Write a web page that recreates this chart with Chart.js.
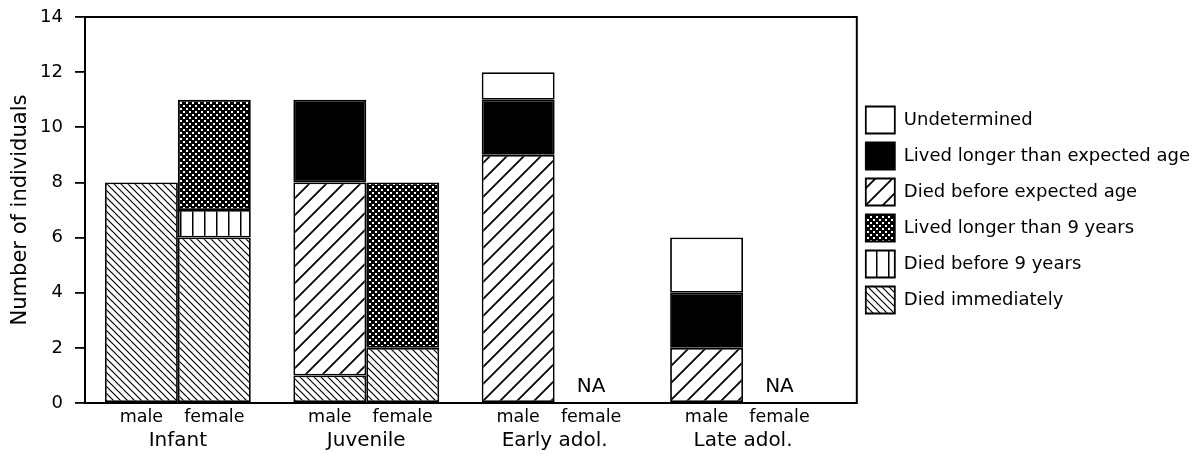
<!DOCTYPE html>
<html>
<head>
<meta charset="utf-8">
<script src="https://cdn.jsdelivr.net/npm/chart.js@4.4.0/dist/chart.umd.min.js"></script>
<style>
  body { margin: 0; background: #fff; }
</style>
</head>
<body>
<canvas id="myChart" width="1202" height="461"></canvas>
<script>
'use strict';

// groups along the x axis, two bars (male / female) in each
let groups = ['Infant', 'Juvenile', 'Early adol.', 'Late adol.'];
let sexes = ['male', 'female'];
let groupPos = [0, 1, 2, 3];
let femaleNA = [false, false, true, true];

let yTicks = [0, 2, 4, 6, 8, 10, 12, 14];

// counts per group, male and female
let diedImmediatelyM = [8, 1, null, null];
let diedImmediatelyF = [6, 2, null, null];
let diedBefore9M = [null, null, null, null];
let diedBefore9F = [1, null, null, null];
let livedLonger9M = [null, null, null, null];
let livedLonger9F = [4, 6, null, null];
let diedBeforeExpM = [null, 7, 9, 2];
let diedBeforeExpF = [null, null, null, null];
let livedLongerExpM = [null, 3, 2, 2];
let livedLongerExpF = [null, null, null, null];
let undeterminedM = [null, null, 1, 2];
let undeterminedF = [null, null, null, null];

let seriesNames = ['Died immediately', 'Died before 9 years', 'Lived longer than 9 years',
  'Died before expected age', 'Lived longer than expected age', 'Undetermined'];

let font = 'DejaVu Sans';
let catPct = 0.774;

// fill patterns
function makeTile(size, draw) {
  let c = document.createElement('canvas');
  c.width = size;
  c.height = size;
  let g = c.getContext('2d');
  g.fillStyle = '#fff';
  g.fillRect(0, 0, size, size);
  draw(g, size);
  return g.createPattern(c, 'repeat');
}

function hatch(size, dir, lw) {
  return makeTile(size, function(g, s) {
    g.strokeStyle = '#000';
    g.lineWidth = lw;
    g.beginPath();
    if (dir === '/') {
      g.moveTo(0, s); g.lineTo(s, 0);
      g.moveTo(-2, 2); g.lineTo(2, -2);
      g.moveTo(s - 2, s + 2); g.lineTo(s + 2, s - 2);
    } else {
      g.moveTo(0, 0); g.lineTo(s, s);
      g.moveTo(-2, s - 2); g.lineTo(2, s + 2);
      g.moveTo(s - 2, -2); g.lineTo(s + 2, 2);
    }
    g.stroke();
  });
}

let pImmediately = hatch(7, '\\', 1.2);
let pBeforeExp = hatch(17, '/', 1.8);
let pBefore9 = makeTile(12, function(g, s) {
  g.fillStyle = '#000';
  g.fillRect(0, 0, 1.5, s);
});
let pLonger9 = makeTile(6, function(g, s) {
  g.fillStyle = '#000';
  g.fillRect(0, 0, s, s);
  g.fillStyle = '#fff';
  g.fillRect(0, 0, 2, 2);
  g.fillRect(3, 3, 2, 2);
});

let fills = [pImmediately, pBefore9, pLonger9, pBeforeExp, '#000', '#fff'];
let maleSets = [diedImmediatelyM, diedBefore9M, livedLonger9M, diedBeforeExpM, livedLongerExpM, undeterminedM];
let femaleSets = [diedImmediatelyF, diedBefore9F, livedLonger9F, diedBeforeExpF, livedLongerExpF, undeterminedF];

function toPoints(values) {
  return values.map((v, i) => ({ x: groupPos[i], y: v }));
}

let datasets = [];
for (let i = 0; i < seriesNames.length; i++) {
  datasets.push({
    label: seriesNames[i],
    data: toPoints(maleSets[i]),
    stack: 'male',
    backgroundColor: fills[i]
  });
}
for (let i = 0; i < seriesNames.length; i++) {
  datasets.push({
    label: seriesNames[i],
    data: toPoints(femaleSets[i]),
    stack: 'female',
    backgroundColor: fills[i]
  });
}
datasets.forEach(d => {
  d.xAxisID = 'x';
  d.borderColor = '#000';
  d.borderWidth = 1.8;
  d.borderSkipped = false;
  d.categoryPercentage = catPct;
  d.barPercentage = 1.0;
});

let framePlugin = {
  id: 'frame',
  afterDatasetsDraw(chart) {
    let ctx = chart.ctx;
    let a = chart.chartArea;
    ctx.save();
    ctx.strokeStyle = '#000';
    ctx.lineWidth = 2;
    ctx.strokeRect(a.left, a.top, a.right - a.left, a.bottom - a.top);

    // NA labels for missing female bars
    ctx.fillStyle = '#000';
    ctx.font = '20px "' + font + '"';
    ctx.textAlign = 'center';
    ctx.textBaseline = 'middle';
    let y0 = chart.scales.y.getPixelForValue(0);
    for (let i = 0; i < groups.length; i++) {
      if (femaleNA[i]) {
        let x = chart.scales.x2.getPixelForValue(groupPos[i] + catPct / 4);
        ctx.fillText('NA', x, y0 - 16);
      }
    }
    ctx.restore();
  }
};

const config = {
  type: 'bar',
  data: { datasets: datasets },
  options: {
    responsive: false,
    animation: false,
    layout: { padding: { left: 4, right: 2, top: 17, bottom: 8 } },
    plugins: {
      tooltip: { enabled: false },
      legend: {
        position: 'right',
        align: 'center',
        fullSize: false,
        reverse: true,
        maxWidth: 420,
        labels: {
          filter: (item) => item.datasetIndex < seriesNames.length,
          boxWidth: 29,
          boxHeight: 27,
          padding: 9,
          color: '#000',
          font: { family: font, size: 18 }
        }
      }
    },
    scales: {
      x: {
        type: 'linear',
        position: 'bottom',
        weight: 1,
        min: -0.493,
        max: 3.604,
        offset: false,
        stacked: true,
        grid: { display: false, drawTicks: false },
        border: { display: false },
        afterBuildTicks: (scale) => {
          scale.ticks = groupPos.map(v => ({ value: v }));
        },
        afterFit: (scale) => {
          scale.height = 25.5;
          scale.paddingLeft = 0;
          scale.paddingRight = 0;
        },
        ticks: {
          autoSkip: false,
          maxRotation: 0,
          padding: 1.5,
          color: '#000',
          font: { family: font, size: 20 },
          callback: (v, i) => groups[i]
        }
      },
      x2: {
        type: 'linear',
        position: 'bottom',
        weight: 0,
        min: -0.493,
        max: 3.604,
        offset: false,
        grid: { display: false, drawTicks: false },
        border: { display: false },
        afterBuildTicks: (scale) => {
          let t = [];
          groupPos.forEach(v => {
            t.push({ value: v - catPct / 4 });
            t.push({ value: v + catPct / 4 });
          });
          scale.ticks = t;
        },
        afterFit: (scale) => {
          scale.height = 24.5;
          scale.paddingLeft = 0;
          scale.paddingRight = 0;
        },
        ticks: {
          autoSkip: false,
          maxRotation: 0,
          padding: 3.5,
          color: '#000',
          font: { family: font, size: 17.5 },
          callback: (v, i) => sexes[i % 2]
        }
      },
      y: {
        stacked: true,
        min: yTicks[0],
        max: yTicks[yTicks.length - 1],
        grid: {
          display: true,
          drawOnChartArea: false,
          drawTicks: true,
          tickLength: 10,
          color: '#000',
          lineWidth: 1.8
        },
        border: { display: false },
        afterBuildTicks: (scale) => {
          scale.ticks = yTicks.map(v => ({ value: v }));
        },
        afterFit: (scale) => {
          scale.width = 81;
          scale.paddingTop = 0;
          scale.paddingBottom = 0;
        },
        ticks: {
          padding: 12,
          color: '#000',
          font: { family: font, size: 18 }
        },
        title: {
          display: true,
          text: 'Number of individuals',
          color: '#000',
          padding: { top: 4, bottom: 7 },
          font: { family: font, size: 21 }
        }
      }
    }
  },
  plugins: [framePlugin]
};

const myChart = new Chart(document.getElementById('myChart'), config);
</script>
</body>
</html>
